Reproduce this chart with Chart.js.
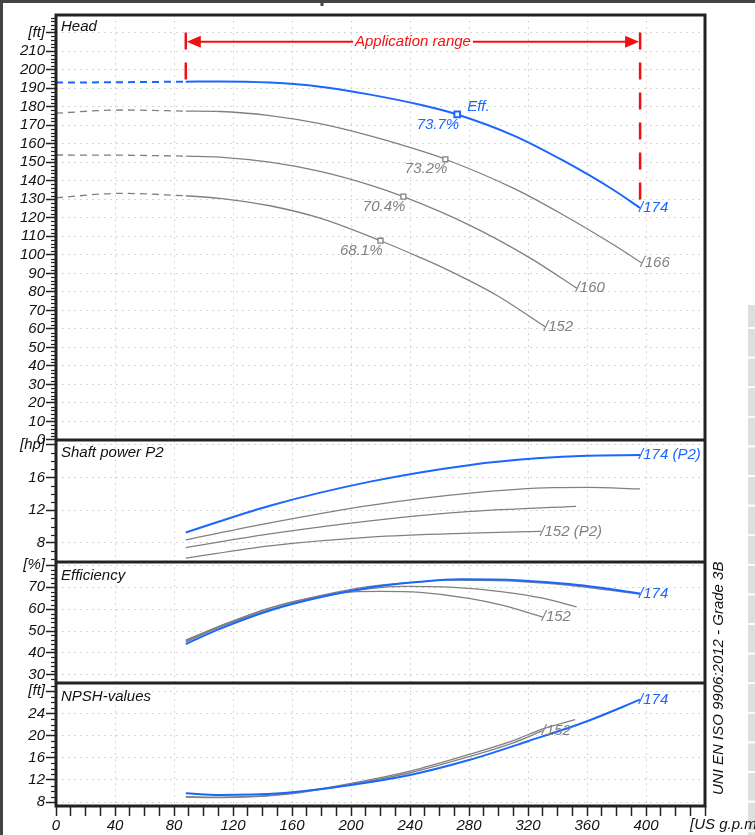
<!DOCTYPE html>
<html>
<head>
<meta charset="utf-8">
<title>Pump performance curves</title>
<script src="https://cdn.jsdelivr.net/npm/chart.js@4.4.0/dist/chart.umd.min.js"></script>
<style>
  html, body { margin: 0; padding: 0; background: #fff; }
  #wrap { position: relative; width: 755px; height: 835px; overflow: hidden; }
</style>
</head>
<body>
<div id="wrap"><canvas id="pumpChart" width="755" height="835"></canvas></div>
<script>
// ---------- data (flow in US g.p.m.) ----------
const flowMajorTicks = [0, 40, 80, 120, 160, 200, 240, 280, 320, 360, 400];
const appRange = [88, 396];          // application range of the 174 impeller
const appArrowHead = 215;            // head level of the range arrow [ft]
const appTopHead = 220;

// Head [ft]
const head174Q  = [88, 110, 145, 179, 213, 247, 272, 310, 344, 378, 396];
const head174   = [193.5, 193.6, 193.0, 190.8, 186.5, 181.0, 175.8, 164.5, 150.8, 135.0, 125.3];
const head174DQ = [0, 44, 88];
const head174D  = [193.0, 193.2, 193.5];
const head166Q  = [88, 111, 145, 179, 213, 247, 264, 310, 344, 378, 397];
const head166   = [177.6, 177.4, 175.2, 170.8, 164.2, 156.2, 151.6, 136.0, 121.5, 105.4, 95.7];
const head166DQ = [0, 44, 88];
const head166D  = [176.5, 178.2, 177.6];
const head160Q  = [88, 111, 145, 179, 213, 235.5, 281, 321, 353];
const head160   = [153.3, 152.8, 150.0, 145.0, 137.6, 131.4, 115.8, 98.5, 82.0];
const head160DQ = [0, 44, 88];
const head160D  = [153.9, 153.8, 153.3];
const head152Q  = [88, 111, 145, 179, 220, 247, 265, 299, 331.5];
const head152   = [131.9, 130.5, 126.5, 119.8, 107.6, 98.5, 92.0, 78.0, 61.2];
const head152DQ = [0, 44, 88];
const head152D  = [130.8, 133.2, 131.9];

// best efficiency points on the head curves
const bepQ    = [272, 264, 235.5, 220];
const bepHead = [175.8, 151.6, 131.4, 107.6];
const bepText = ['73.7%', '73.2%', '70.4%', '68.1%'];

// Shaft power P2 [hp]
const pow174Q = [88, 145, 213, 281, 326, 360, 396];
const pow174  = [9.27, 12.55, 15.5, 17.55, 18.35, 18.68, 18.75];
const pow166Q = [88, 145, 213, 281, 337, 360, 396];
const pow166  = [8.37, 10.45, 12.6, 14.1, 14.77, 14.8, 14.6];
const pow160Q = [88, 145, 213, 281, 352.6];
const pow160  = [7.42, 9.1, 10.7, 11.85, 12.47];
const pow152Q = [88, 145, 213, 281, 329];
const pow152  = [6.12, 7.63, 8.7, 9.19, 9.4];

// Efficiency [%]
const eff174Q = [88, 111, 145, 179, 213, 247, 274, 315, 348, 371, 396];
const eff174  = [44.1, 51.0, 59.4, 65.4, 69.9, 72.5, 73.6, 73.1, 71.5, 69.6, 67.1];
const eff166Q = [88, 111, 145, 179, 213, 247, 264, 315, 348, 396];
const eff166  = [45.9, 52.3, 60.6, 66.2, 70.4, 72.5, 73.2, 72.6, 70.9, 66.8];
const eff160Q = [88, 111, 145, 179, 213, 235.5, 270, 303, 330, 353];
const eff160  = [45.5, 52.2, 60.4, 65.9, 69.4, 70.4, 69.9, 67.9, 65.0, 61.0];
const eff152Q = [88, 111, 145, 179, 204, 220, 247, 281, 303, 330];
const eff152  = [45.0, 51.8, 59.8, 65.5, 68.0, 68.1, 67.6, 64.8, 61.7, 56.4];

// NPSH [ft]
const npsh174Q = [88, 111, 152, 200, 240, 280, 320, 360, 396];
const npsh174  = [9.6, 9.3, 9.6, 11.1, 12.9, 15.6, 19.0, 22.6, 26.5];
const npsh160Q = [88, 111, 152, 200, 240, 280, 310, 330, 352];
const npsh160  = [9.0, 8.9, 9.4, 11.4, 13.6, 16.6, 19.1, 21.2, 22.9];
const npsh152Q = [88, 111, 152, 200, 240, 280, 310, 330];
const npsh152  = [8.9, 8.8, 9.3, 11.2, 13.3, 16.2, 18.7, 20.9];

// axis tick labels per panel
const headMajor = [0, 10, 20, 30, 40, 50, 60, 70, 80, 90, 100, 110, 120, 130, 140, 150, 160, 170, 180, 190, 200, 210];
const powMajor  = [8, 12, 16];
const effMajor  = [30, 40, 50, 60, 70];
const npshMajor = [8, 12, 16, 20, 24];

// ---------- styling ----------
const FONT = '"Liberation Sans", Arial, sans-serif';
const BLUE = '#1a66ff';
const GRAY = '#808080';
const RED = '#f01010';
const FRAME = '#222';
const GRID = '#d6d6d6';
const NONE = 'rgba(0,0,0,0)';

function pts(qs, vs) {
    return qs.map((q, i) => ({ x: q, y: vs[i] }));
}

function curve(qs, vs, axis, color, width, dashed) {
    return {
        data: pts(qs, vs),
        yAxisID: axis,
        borderColor: color,
        borderWidth: width,
        borderDash: dashed ? [7, 5] : [],
        pointRadius: 0,
        fill: false,
        cubicInterpolationMode: 'monotone',
        order: color === BLUE ? 0 : 1
    };
}

function yAxis(weight, min, max, step, majors, unitValue, unitText) {
    const isMajor = v => majors.includes(v) || v === unitValue;
    return {
        type: 'linear',
        position: 'left',
        stack: 'panels',
        stackWeight: weight,
        min: min,
        max: max,
        afterFit: s => { s.width = 56; },
        border: { display: false, dash: [2, 4] },
        grid: {
            color: c => isMajor(c.tick.value) ? GRID : NONE,
            lineWidth: 1,
            drawTicks: true,
            tickLength: 10,
            tickWidth: 1.5,
            tickColor: c => isMajor(c.tick.value) ? FRAME : NONE,
            tickBorderDash: []
        },
        ticks: {
            stepSize: step,
            includeBounds: false,
            autoSkip: false,
            padding: 1,
            color: '#111',
            font: { family: FONT, size: 15, style: 'italic' },
            callback: v => v === unitValue ? unitText : (majors.includes(v) ? String(v) : '')
        },
        _majors: majors,
        _unit: unitValue
    };
}

// ---------- drawing helpers (labels, range arrow, frame) ----------
function text(ctx, str, x, y, color, align, base, size) {
    ctx.save();
    ctx.font = 'italic ' + (size || 15) + 'px ' + FONT;
    ctx.fillStyle = color;
    ctx.textAlign = align || 'left';
    ctx.textBaseline = base || 'middle';
    ctx.fillText(str, x, y);
    ctx.restore();
}

function endLabel(chart, qs, vs, axis, str, color) {
    const x = chart.scales.x.getPixelForValue(qs[qs.length - 1]);
    const y = chart.scales[axis].getPixelForValue(vs[vs.length - 1]);
    text(chart.ctx, str, x - 1, y, color);
}

const sheetDecor = {
    id: 'sheetDecor',
    beforeDraw(chart) {
        const ctx = chart.ctx;
        ctx.save();
        ctx.fillStyle = '#fff';
        ctx.fillRect(0, 0, chart.width, chart.height);
        // page frame bits around the sheet
        ctx.strokeStyle = '#444';
        ctx.lineWidth = 3;
        ctx.beginPath();
        ctx.moveTo(0, 1.5); ctx.lineTo(chart.width, 1.5);
        ctx.moveTo(1.5, 0); ctx.lineTo(1.5, chart.height);
        ctx.moveTo(322, 0); ctx.lineTo(322, 6);
        ctx.stroke();
        // grey table strip at the right edge
        ctx.fillStyle = '#dedede';
        ctx.fillRect(748, 305, 7, chart.height - 305);
        ctx.strokeStyle = '#fff';
        ctx.lineWidth = 2;
        for (let y = 328; y < chart.height; y += 29.6) {
            ctx.beginPath(); ctx.moveTo(748, y); ctx.lineTo(755, y); ctx.stroke();
        }
        ctx.restore();
    },
    afterDatasetsDraw(chart) {
        const ctx = chart.ctx;
        const xs = chart.scales.x, yh = chart.scales.yHead;
        const area = chart.chartArea;

        // application range
        const xl = xs.getPixelForValue(appRange[0]);
        const xr = xs.getPixelForValue(appRange[1]);
        const ya = yh.getPixelForValue(appArrowHead);
        const yt = yh.getPixelForValue(appTopHead);
        ctx.save();
        ctx.strokeStyle = RED;
        ctx.fillStyle = RED;
        ctx.lineWidth = 2.5;
        ctx.setLineDash([17, 13]);
        ctx.beginPath();
        ctx.moveTo(xl, yt); ctx.lineTo(xl, yh.getPixelForValue(head174D[head174D.length - 1]));
        ctx.moveTo(xr, yt); ctx.lineTo(xr, yh.getPixelForValue(head174[head174.length - 1]));
        ctx.stroke();
        ctx.setLineDash([]);
        ctx.lineWidth = 2;
        ctx.beginPath();
        ctx.moveTo(xl + 10, ya); ctx.lineTo(xr - 10, ya);
        ctx.stroke();
        ctx.beginPath();
        ctx.moveTo(xl + 1, ya); ctx.lineTo(xl + 15, ya - 6); ctx.lineTo(xl + 15, ya + 6); ctx.closePath();
        ctx.moveTo(xr - 1, ya); ctx.lineTo(xr - 15, ya - 6); ctx.lineTo(xr - 15, ya + 6); ctx.closePath();
        ctx.fill();
        ctx.font = 'italic 15px ' + FONT;
        const label = 'Application range';
        const w = ctx.measureText(label).width;
        const xm = (xl + xr) / 2;
        ctx.fillStyle = '#fff';
        ctx.fillRect(xm - w / 2 - 2, ya - 8, w + 4, 16);
        ctx.restore();
        text(ctx, label, xm, ya, RED, 'center');

        // head curve labels
        endLabel(chart, head174Q, head174, 'yHead', '/174', BLUE);
        endLabel(chart, head166Q, head166, 'yHead', '/166', GRAY);
        endLabel(chart, head160Q, head160, 'yHead', '/160', GRAY);
        endLabel(chart, head152Q, head152, 'yHead', '/152', GRAY);
        bepQ.forEach((q, i) => {
            const x = xs.getPixelForValue(q);
            const y = yh.getPixelForValue(bepHead[i]);
            const c = i === 0 ? BLUE : GRAY;
            text(ctx, bepText[i], x + 2, y + 10, c, 'right');
            if (i === 0) text(ctx, 'Eff.', x + 10, y - 8, BLUE);
        });

        // other panels
        endLabel(chart, pow174Q, pow174, 'yPow', '/174 (P2)', BLUE);
        endLabel(chart, pow152Q, pow152, 'yPow', '/152 (P2)', GRAY);
        endLabel(chart, eff174Q, eff174, 'yEff', '/174', BLUE);
        endLabel(chart, eff152Q, eff152, 'yEff', '/152', GRAY);
        endLabel(chart, npsh174Q, npsh174, 'yNpsh', '/174', BLUE);
        endLabel(chart, npsh152Q, npsh152, 'yNpsh', '/152', GRAY);

        // panel titles
        text(ctx, 'Head', area.left + 5, chart.scales.yHead.top + 12, '#111');
        text(ctx, 'Shaft power P2', area.left + 5, chart.scales.yPow.top + 13, '#111');
        text(ctx, 'Efficiency', area.left + 5, chart.scales.yEff.top + 14, '#111');
        text(ctx, 'NPSH-values', area.left + 5, chart.scales.yNpsh.top + 14, '#111');
    },
    afterDraw(chart) {
        const ctx = chart.ctx;
        const area = chart.chartArea;
        ctx.save();
        // minor ticks on the value axes
        ctx.strokeStyle = FRAME;
        ctx.lineWidth = 1.2;
        ['yHead', 'yPow', 'yEff', 'yNpsh'].forEach(id => {
            const s = chart.scales[id];
            const o = s.options;
            s.ticks.forEach(t => {
                if (o._majors.includes(t.value) || t.value === o._unit) return;
                const y = Math.round(s.getPixelForValue(t.value)) + 0.5;
                ctx.beginPath(); ctx.moveTo(area.left - 5, y); ctx.lineTo(area.left, y); ctx.stroke();
            });
        });
        // frame and panel separators
        ctx.lineWidth = 3;
        ctx.strokeRect(area.left, area.top, area.right - area.left, area.bottom - area.top);
        ['yPow', 'yEff', 'yNpsh'].forEach(id => {
            const y = chart.scales[id].top;
            ctx.beginPath(); ctx.moveTo(area.left, y); ctx.lineTo(area.right, y); ctx.stroke();
        });
        ctx.restore();
        // unit of the flow axis and the standard note
        text(ctx, '[US g.p.m.]', 690, 817, '#111', 'left', 'top');
        ctx.save();
        ctx.translate(719, 795);
        ctx.rotate(-Math.PI / 2);
        text(ctx, 'UNI EN ISO 9906:2012 - Grade 3B', 0, 0, '#111', 'left', 'middle');
        ctx.restore();
    }
};

const datasets = [
    curve(head174Q, head174, 'yHead', BLUE, 2),
    curve(head174DQ, head174D, 'yHead', BLUE, 2, true),
    curve(head166Q, head166, 'yHead', GRAY, 1.3),
    curve(head166DQ, head166D, 'yHead', GRAY, 1.3, true),
    curve(head160Q, head160, 'yHead', GRAY, 1.3),
    curve(head160DQ, head160D, 'yHead', GRAY, 1.3, true),
    curve(head152Q, head152, 'yHead', GRAY, 1.3),
    curve(head152DQ, head152D, 'yHead', GRAY, 1.3, true),
    {
        data: pts(bepQ.slice(0, 1), bepHead.slice(0, 1)),
        yAxisID: 'yHead', showLine: false, order: -1,
        pointStyle: 'rect', pointRadius: 4, pointBorderWidth: 2,
        pointBorderColor: BLUE, pointBackgroundColor: '#fff'
    },
    {
        data: pts(bepQ.slice(1), bepHead.slice(1)),
        yAxisID: 'yHead', showLine: false, order: -1,
        pointStyle: 'rect', pointRadius: 3.5, pointBorderWidth: 1.3,
        pointBorderColor: GRAY, pointBackgroundColor: '#fff'
    },
    curve(pow174Q, pow174, 'yPow', BLUE, 2),
    curve(pow166Q, pow166, 'yPow', GRAY, 1.3),
    curve(pow160Q, pow160, 'yPow', GRAY, 1.3),
    curve(pow152Q, pow152, 'yPow', GRAY, 1.3),
    curve(eff174Q, eff174, 'yEff', BLUE, 2),
    curve(eff166Q, eff166, 'yEff', GRAY, 1.3),
    curve(eff160Q, eff160, 'yEff', GRAY, 1.3),
    curve(eff152Q, eff152, 'yEff', GRAY, 1.3),
    curve(npsh174Q, npsh174, 'yNpsh', BLUE, 2),
    curve(npsh160Q, npsh160, 'yNpsh', GRAY, 1.3),
    curve(npsh152Q, npsh152, 'yNpsh', GRAY, 1.3)
];

new Chart(document.getElementById('pumpChart'), {
    type: 'line',
    data: { datasets: datasets },
    options: {
        responsive: false,
        animation: false,
        events: [],
        layout: { padding: { top: 15, right: 50, bottom: 0, left: 0 } },
        plugins: { legend: { display: false }, tooltip: { enabled: false } },
        scales: {
            x: {
                type: 'linear',
                position: 'bottom',
                min: 0,
                max: 440,
                afterFit: s => { s.height = 29; },
                border: { display: false, dash: [2, 4] },
                grid: {
                    color: c => (flowMajorTicks.includes(c.tick.value) && c.tick.value > 0) ? GRID : NONE,
                    drawTicks: true,
                    tickLength: 10,
                    tickWidth: 1.5,
                    tickColor: FRAME,
                    tickBorderDash: []
                },
                ticks: {
                    stepSize: 10,
                    autoSkip: false,
                    maxRotation: 0,
                    padding: 1,
                    color: '#111',
                    font: { family: FONT, size: 15, style: 'italic' },
                    callback: v => flowMajorTicks.includes(v) ? String(v) : ''
                }
            },
            yNpsh: yAxis(123, 7.3, 29.5, 1, npshMajor, 28, '[ft]'),
            yEff: yAxis(121, 26.3, 81.5, 2, effMajor, 80, '[%]'),
            yPow: yAxis(122, 5.65, 20.6, 1, powMajor, 20, '[hp]'),
            yHead: yAxis(425, 0, 229.5, 2, headMajor, 220, '[ft]')
        }
    },
    plugins: [sheetDecor]
});
</script>
</body>
</html>
